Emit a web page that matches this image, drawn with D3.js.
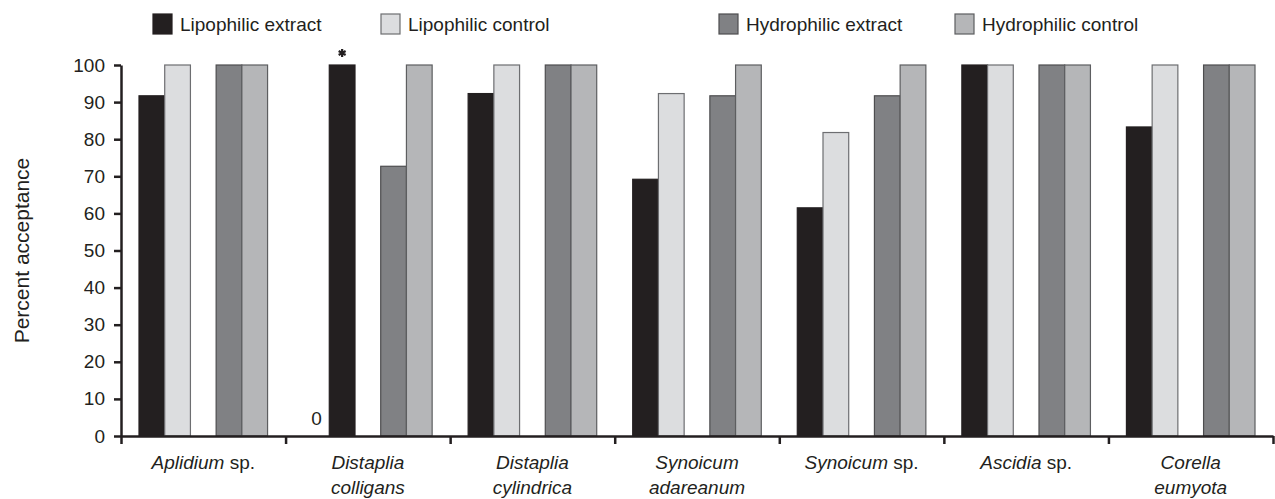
<!DOCTYPE html>
<html>
<head>
<meta charset="utf-8">
<script src="https://cdn.jsdelivr.net/npm/d3@7"></script>
<style>
  body { margin: 0; background: #fff; }
  svg { font-family: "Liberation Sans", Arial, Helvetica, sans-serif; }
</style>
</head>
<body>
<div class="canvas"></div>
<script>
// data
const species = [
  ['Aplidium', ' sp.'],
  ['Distaplia', 'colligans'],
  ['Distaplia', 'cylindrica'],
  ['Synoicum', 'adareanum'],
  ['Synoicum', ' sp.'],
  ['Ascidia', ' sp.'],
  ['Corella', 'eumyota']
];
const seriesNames = ['Lipophilic extract', 'Lipophilic control', 'Hydrophilic extract', 'Hydrophilic control'];
const lipoExtract  = [91.7, 0, 92.3, 69.2, 61.5, 100, 83.3];
const lipoControl  = [100, 100, 100, 92.3, 81.8, 100, 100];
const hydroExtract = [100, 72.7, 100, 91.7, 91.7, 100, 100];
const hydroControl = [100, 100, 100, 100, 100, 100, 100];
const yTicks = [0, 10, 20, 30, 40, 50, 60, 70, 80, 90, 100];

const colors = ['#231f20', '#dcdddf', '#808184', '#b5b6b8'];
const strokes = ['#231f20', '#6d6e71', '#4d4d4f', '#5d5e60'];

const width = 1275, height = 499;
const margin = {top: 65, right: 2, bottom: 63, left: 121};
const graphWidth = width - margin.left - margin.right;
const graphHeight = height - margin.top - margin.bottom;

const svg = d3.select('.canvas')
  .append('svg')
    .attr('width', width)
    .attr('height', height);

const graph = svg.append('g')
  .attr('transform', `translate(${margin.left}, ${margin.top})`);

// scales
const x0 = d3.scaleBand()
  .domain(d3.range(species.length))
  .range([0, graphWidth]);

// five slots per group, the middle one stays empty
const x1 = d3.scaleBand()
  .domain([0, 1, 'gap', 2, 3])
  .range([18, x0.bandwidth() - 18]);

const y = d3.scaleLinear()
  .domain([0, 100])
  .range([graphHeight, 0]);

const values = [lipoExtract, lipoControl, hydroExtract, hydroControl];
const bars = [];
species.forEach((s, i) => {
  values.forEach((arr, k) => {
    // the lipophilic control bar of D. colligans is drawn black in the figure
    const fillIdx = (i === 1 && k === 1) ? 0 : k;
    bars.push({group: i, series: k, value: arr[i], fill: fillIdx});
  });
});

graph.selectAll('rect.bar')
  .data(bars.filter(d => d.value > 0))
  .enter()
  .append('rect')
    .attr('class', 'bar')
    .attr('x', d => x0(d.group) + x1(d.series))
    .attr('width', x1.bandwidth())
    .attr('y', d => y(d.value))
    .attr('height', d => graphHeight - y(d.value))
    .attr('fill', d => colors[d.fill])
    .attr('stroke', d => strokes[d.fill])
    .attr('stroke-width', 1.2);

// zero value label
bars.filter(d => d.value === 0).forEach(d => {
  graph.append('text')
    .attr('x', x0(d.group) + x1(d.series) + x1.bandwidth() / 2)
    .attr('y', y(0) - 11)
    .attr('text-anchor', 'middle')
    .attr('font-size', 19)
    .attr('fill', '#231f20')
    .text('0');
});

// significance marker
const starBar = bars.find(d => d.group === 1 && d.series === 1);
graph.append('path')
  .attr('d', d3.symbol(d3.symbolAsterisk, 45)())
  .attr('transform', `translate(${x0(starBar.group) + x1(starBar.series) + x1.bandwidth() / 2}, ${y(starBar.value) - 12})`)
  .attr('fill', 'none')
  .attr('stroke', '#231f20')
  .attr('stroke-width', 2.2);

// y axis
const yAxis = d3.axisLeft(y)
  .tickValues(yTicks)
  .tickSize(7)
  .tickPadding(9)
  .tickSizeOuter(0);

const yAxisGroup = graph.append('g').call(yAxis);
yAxisGroup.select('.domain').attr('stroke', '#231f20').attr('stroke-width', 2.5);
yAxisGroup.selectAll('.tick line').attr('stroke', '#231f20').attr('stroke-width', 2.5);
yAxisGroup.selectAll('.tick text')
  .attr('font-size', 19)
  .attr('fill', '#231f20')
  .attr('font-family', '"Liberation Sans", Arial, sans-serif');

// x axis: ticks at the group boundaries
const xb = d3.scaleLinear().domain([0, species.length]).range([0, graphWidth]);
const xAxis = d3.axisBottom(xb)
  .tickValues(d3.range(species.length + 1))
  .tickSize(8)
  .tickFormat('')
  .tickSizeOuter(0);

const xAxisGroup = graph.append('g')
  .attr('transform', `translate(0, ${graphHeight})`)
  .call(xAxis);
xAxisGroup.select('.domain').attr('stroke', '#231f20').attr('stroke-width', 2.5);
xAxisGroup.selectAll('.tick line').attr('stroke', '#231f20').attr('stroke-width', 2.5);

// species labels, genus in italics
const labels = graph.append('g')
  .attr('transform', `translate(0, ${graphHeight})`)
  .attr('font-size', 19)
  .attr('fill', '#231f20')
  .attr('text-anchor', 'middle');

species.forEach((s, i) => {
  const cx = x0(i) + x0.bandwidth() / 2;
  if (s[1].startsWith(' ')) {
    const t = labels.append('text').attr('x', cx).attr('y', 33);
    t.append('tspan').attr('font-style', 'italic').text(s[0]);
    t.append('tspan').text(s[1]);
  } else {
    labels.append('text').attr('x', cx).attr('y', 33).attr('font-style', 'italic').text(s[0]);
    labels.append('text').attr('x', cx).attr('y', 58).attr('font-style', 'italic').text(s[1]);
  }
});

// y axis title
svg.append('text')
  .attr('transform', `translate(29, ${margin.top + graphHeight / 2}) rotate(-90)`)
  .attr('text-anchor', 'middle')
  .attr('font-size', 21)
  .attr('fill', '#231f20')
  .text('Percent acceptance');

// legend
const legendX = [153, 381, 719, 955];
const legend = svg.append('g');
seriesNames.forEach((name, k) => {
  const g = legend.append('g').attr('transform', `translate(${legendX[k]}, 14)`);
  g.append('rect')
    .attr('width', 19)
    .attr('height', 20)
    .attr('fill', colors[k])
    .attr('stroke', strokes[k])
    .attr('stroke-width', 1.2);
  g.append('text')
    .attr('x', 27)
    .attr('y', 17)
    .attr('font-size', 19)
    .attr('fill', '#231f20')
    .text(name);
});
</script>
</body>
</html>
